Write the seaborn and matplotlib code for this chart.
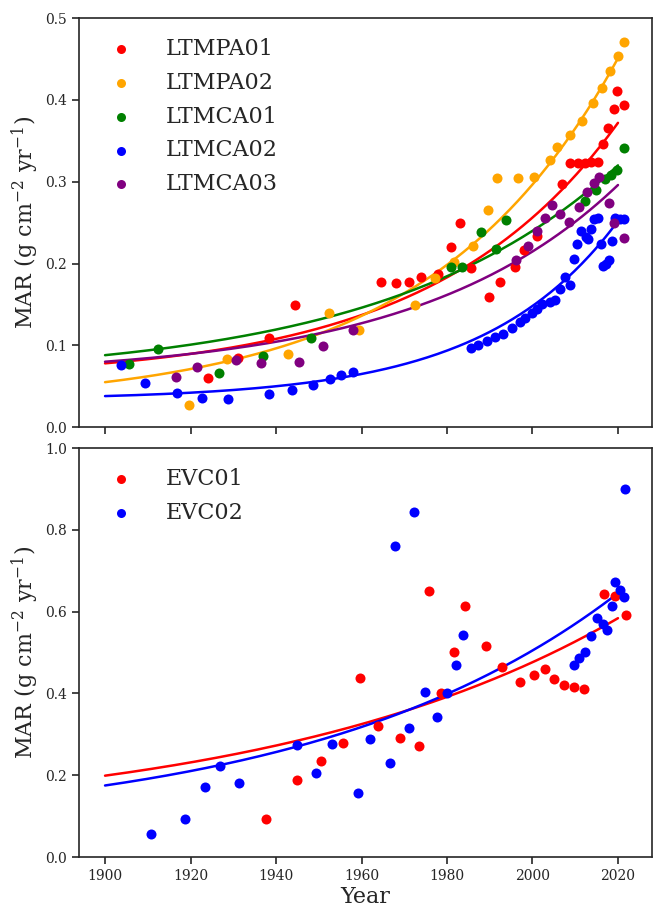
import numpy as np
import pandas as pd
import matplotlib
matplotlib.use('Agg')
import matplotlib.pyplot as plt
import seaborn as sns

# Style: seaborn ticks with a serif font
sns.set_theme(style="ticks")
plt.rcParams['font.family'] = ['DejaVu Serif']
plt.rcParams['mathtext.fontset'] = 'dejavuserif'

# ---- data (year, MAR) ----
ltmpa01_year = [1924, 1931, 1938.3, 1944.5, 1964.5, 1968, 1971, 1974, 1978, 1981, 1983, 1985.5,
                1989.8, 1992.5, 1996, 1998, 2001, 2007, 2008.7, 2010.6, 2012.2, 2013.7, 2015.3,
                2016.5, 2017.7, 2019, 2019.8, 2021.4]
ltmpa01_mar = [0.060, 0.084, 0.109, 0.149, 0.178, 0.176, 0.177, 0.183, 0.187, 0.220, 0.250, 0.194,
               0.159, 0.178, 0.196, 0.216, 0.234, 0.297, 0.323, 0.323, 0.323, 0.324, 0.324,
               0.346, 0.366, 0.389, 0.411, 0.394]

ltmpa02_year = [1919.6, 1928.5, 1942.8, 1952.4, 1959.4, 1972.4, 1977.3, 1981.6, 1986.1, 1989.6,
                1991.8, 1996.5, 2000.4, 2004.1, 2005.8, 2008.8, 2011.7, 2014.2, 2016.2, 2018.1,
                2019.9, 2021.4]
ltmpa02_mar = [0.027, 0.083, 0.089, 0.139, 0.119, 0.149, 0.182, 0.202, 0.222, 0.265,
               0.304, 0.304, 0.306, 0.326, 0.342, 0.357, 0.374, 0.396, 0.415, 0.435,
               0.454, 0.471]

ltmca01_year = [1905.5, 1912.4, 1926.7, 1937, 1948.3, 1980.9, 1983.5, 1988, 1991.4, 1993.7,
                2012.3, 2014.8, 2016.9, 2018.4, 2019.8, 2021.4]
ltmca01_mar = [0.077, 0.096, 0.066, 0.087, 0.109, 0.196, 0.196, 0.238, 0.218, 0.253,
               0.276, 0.290, 0.303, 0.308, 0.314, 0.341]

ltmca02_year = [1903.7, 1909.4, 1916.8, 1922.8, 1928.8, 1938.3, 1943.7, 1948.6, 1952.6, 1955.3,
                1958.1, 1985.5, 1987.2, 1989.3, 1991.3, 1993.2, 1995.2, 1997, 1998.2, 1999.9,
                2001.1, 2002.3, 2004.2, 2005.2, 2006.5, 2007.6, 2008.7, 2009.6, 2010.4, 2011.3,
                2012.5, 2013.1, 2013.6, 2014.3, 2015.4, 2016.1, 2016.4, 2017.1, 2017.9, 2018.5,
                2019.2, 2020.4, 2021.4]
ltmca02_mar = [0.076, 0.054, 0.042, 0.036, 0.034, 0.040, 0.045, 0.052, 0.059, 0.064,
               0.068, 0.097, 0.101, 0.105, 0.110, 0.114, 0.121, 0.128, 0.134, 0.139,
               0.145, 0.150, 0.153, 0.155, 0.169, 0.184, 0.174, 0.206, 0.224, 0.240,
               0.233, 0.230, 0.242, 0.255, 0.256, 0.224, 0.197, 0.200, 0.204, 0.228,
               0.256, 0.255, 0.254]

ltmca03_year = [1916.7, 1921.4, 1930.7, 1936.4, 1945.4, 1951.1, 1958, 1996.2, 1998.9, 2001.1,
                2003, 2004.6, 2006.5, 2008.5, 2010.9, 2012.8, 2014.4, 2015.6, 2017.8, 2019, 2021.4]
ltmca03_mar = [0.061, 0.073, 0.082, 0.079, 0.080, 0.099, 0.119, 0.204, 0.222, 0.240,
               0.256, 0.272, 0.261, 0.251, 0.269, 0.288, 0.298, 0.306, 0.274, 0.249, 0.231]

evc01_year = [1937.7, 1945, 1950.6, 1955.7, 1959.7, 1963.9, 1968.9, 1973.5, 1975.8, 1978.7,
              1981.6, 1984.3, 1989.1, 1992.9, 1997, 2000.3, 2002.9, 2005.1, 2007.4, 2009.6,
              2012, 2016.7, 2019.2, 2021.8]
evc01_mar = [0.093, 0.188, 0.234, 0.280, 0.438, 0.320, 0.290, 0.272, 0.650, 0.400,
             0.502, 0.615, 0.517, 0.464, 0.428, 0.445, 0.460, 0.435, 0.421, 0.416,
             0.411, 0.642, 0.638, 0.592]

evc02_year = [1910.8, 1918.6, 1923.3, 1926.9, 1931.3, 1944.9, 1949.4, 1953.1, 1959.1, 1962.1,
              1966.7, 1967.9, 1971.1, 1972.2, 1974.8, 1977.6, 1980, 1982, 1983.8, 2009.6,
              2010.9, 2012.2, 2013.8, 2015, 2016.4, 2017.5, 2018.7, 2019.4, 2020.5, 2021.4, 2021.7]
evc02_mar = [0.056, 0.092, 0.171, 0.222, 0.180, 0.273, 0.205, 0.276, 0.157, 0.288,
             0.229, 0.760, 0.315, 0.843, 0.403, 0.342, 0.400, 0.469, 0.544, 0.470,
             0.486, 0.501, 0.541, 0.585, 0.569, 0.554, 0.615, 0.673, 0.654, 0.635, 0.900]

top_sites = ['LTMPA01', 'LTMPA02', 'LTMCA01', 'LTMCA02', 'LTMCA03']
top_colors = ['red', 'orange', 'green', 'blue', 'purple']
bottom_sites = ['EVC01', 'EVC02']
bottom_colors = ['red', 'blue']

# fitted trend curves at 1900, 1960 and 2020
top_fit_1900 = [0.078, 0.055, 0.088, 0.038, 0.080]
top_fit_1960 = [0.137, 0.136, 0.146, 0.065, 0.127]
top_fit_2020 = [0.372, 0.451, 0.320, 0.252, 0.296]
bottom_fit_1900 = [0.199, 0.175]
bottom_fit_1960 = [0.325, 0.318]
bottom_fit_2020 = [0.584, 0.645]


def exp_curve(t, y0, y1, y2):
    # y = a * exp(b * (t - 1900)) + c passing through the three read values
    r = (y2 - y1) / (y1 - y0)
    b = np.log(r) / 60.0
    a = (y1 - y0) / (r - 1)
    c = y0 - a
    return a * np.exp(b * (t - 1900)) + c


def make_df(names, years, values):
    frames = []
    for n, t, v in zip(names, years, values):
        frames.append(pd.DataFrame({'Year': t, 'MAR': v, 'Site': n}))
    return pd.concat(frames, ignore_index=True)


top_df = make_df(top_sites,
                 [ltmpa01_year, ltmpa02_year, ltmca01_year, ltmca02_year, ltmca03_year],
                 [ltmpa01_mar, ltmpa02_mar, ltmca01_mar, ltmca02_mar, ltmca03_mar])
bottom_df = make_df(bottom_sites, [evc01_year, evc02_year], [evc01_mar, evc02_mar])

fig, (ax1, ax2) = plt.subplots(2, 1, figsize=(6.53, 9.06), dpi=100, sharex=True)
fig.subplots_adjust(left=0.121, right=0.998, top=0.980, bottom=0.054, hspace=0.051)

t_fit = np.linspace(1900, 2020, 200)


def draw_panel(ax, df, sites, colors, f0, f1, f2, ylim, yticks):
    for i, (site, color) in enumerate(zip(sites, colors)):
        sub = df[df['Site'] == site]
        sns.scatterplot(data=sub, x='Year', y='MAR', color=color, s=52, linewidth=0,
                        label=site, ax=ax, zorder=3)
        sns.lineplot(x=t_fit, y=exp_curve(t_fit, f0[i], f1[i], f2[i]), color=color,
                     linewidth=1.8, ax=ax, zorder=2, legend=False)
    ax.set_ylim(*ylim)
    ax.set_yticks(yticks)
    ax.set_ylabel('MAR (g cm$^{-2}$ yr$^{-1}$)', fontsize=16, labelpad=3)
    ax.tick_params(labelsize=10, length=5, width=1.2)
    for sp in ax.spines.values():
        sp.set_linewidth(1.2)
    ax.legend(loc='upper left', frameon=False, fontsize=16, handletextpad=1.0,
              borderaxespad=0.5, labelspacing=0.53, markerscale=0.9)


draw_panel(ax1, top_df, top_sites, top_colors, top_fit_1900, top_fit_1960, top_fit_2020,
           (0, 0.5), np.arange(0, 0.51, 0.1))
draw_panel(ax2, bottom_df, bottom_sites, bottom_colors, bottom_fit_1900, bottom_fit_1960,
           bottom_fit_2020, (0, 1.0), np.arange(0, 1.01, 0.2))

ax2.set_xticks(np.arange(1900, 2021, 20))
ax1.set_xlabel('')
ax2.set_xlabel('Year', fontsize=16, labelpad=2)
ax1.tick_params(labelbottom=False)

fig.savefig('out.png', dpi=100)
